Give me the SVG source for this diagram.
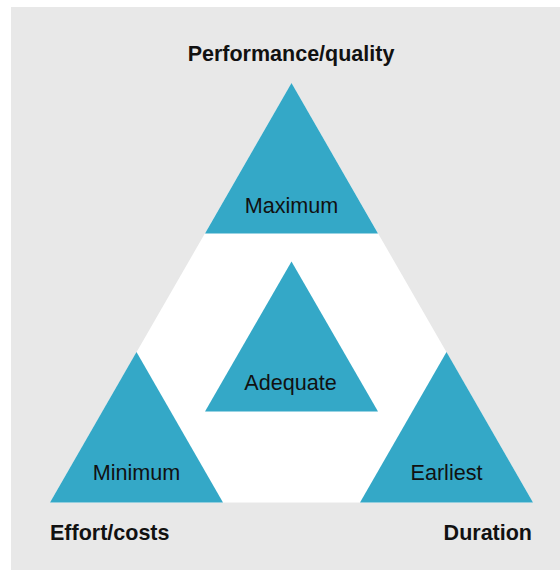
<svg xmlns="http://www.w3.org/2000/svg" width="560" height="570" viewBox="0 0 560 570">
<style>
.tri{fill:#34a8c7}
.lbl{font-family:"Liberation Sans",Arial,Helvetica,sans-serif;font-size:21.6px;fill:#111;text-anchor:middle}
.hd{font-family:"Liberation Sans",Arial,Helvetica,sans-serif;font-size:21.5px;font-weight:bold;fill:#111}
</style>
<rect x="11" y="7" width="549" height="563" fill="#e8e8e8"/>
<g id="frame"><polygon points="291.5,83 50,502.5 533,502.5" fill="#ffffff"/></g>
<g id="connectors"></g>
<g id="node-top">
<polygon class="tri" points="291.5,83 205,233.5 378,233.5"/>
<text class="lbl" x="291.5" y="212.5">Maximum</text>
</g>
<g id="node-left">
<polygon class="tri" points="136.5,352 50,502.5 223,502.5"/>
<text class="lbl" x="136.5" y="480">Minimum</text>
</g>
<g id="node-right">
<polygon class="tri" points="446.5,352 360,502.5 533,502.5"/>
<text class="lbl" x="446.5" y="480">Earliest</text>
</g>
<g id="node-center">
<polygon class="tri" points="291.5,261.5 205,411.5 378,411.5"/>
<text class="lbl" x="290.5" y="390">Adequate</text>
</g>
<g id="label-top"><text class="hd" x="291" y="61" text-anchor="middle">Performance/quality</text></g>
<g id="label-left"><text class="hd" x="50" y="540" text-anchor="start">Effort/costs</text></g>
<g id="label-right"><text class="hd" x="532" y="540" text-anchor="end">Duration</text></g>
</svg>
